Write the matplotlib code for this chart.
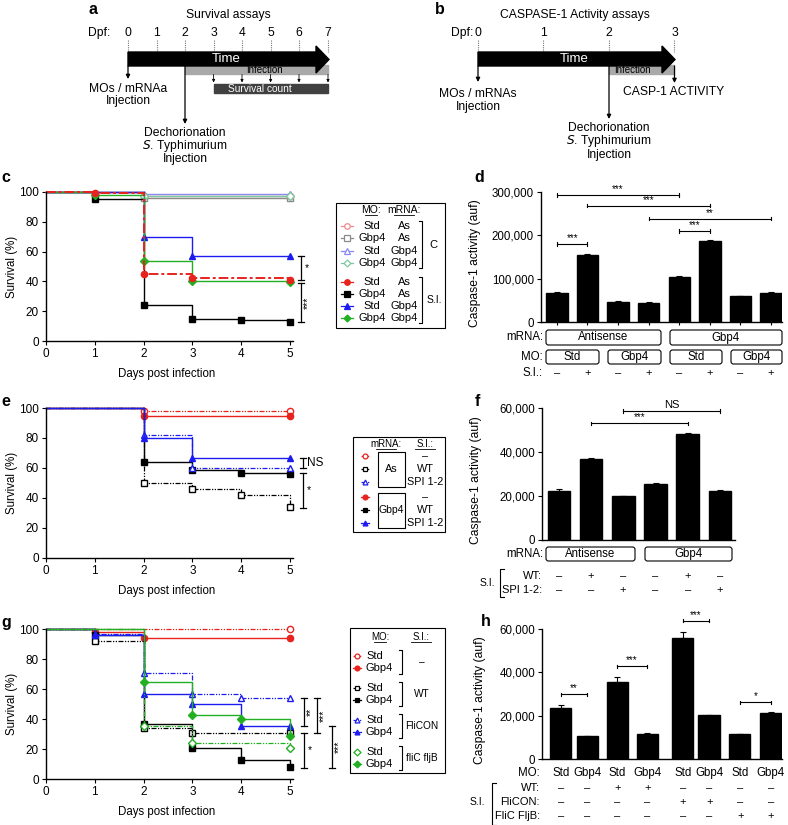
import numpy as np
import matplotlib.pyplot as plt
from matplotlib.patches import Rectangle, FancyBboxPatch, Polygon

plt.rcParams['font.family'] = ['Liberation Sans', 'DejaVu Sans']
plt.rcParams['font.size'] = 8
plt.rcParams['axes.linewidth'] = 1.0

# ---------------- data ----------------
days = [0, 1, 2, 3, 4, 5]

# panel c  (MO / mRNA, control vs S.I.)
c_std_as_ctrl = [100, 100, 97, 97, 97, 97]
c_gbp4_as_ctrl = [100, 100, 96, 96, 96, 96]
c_std_gbp4_ctrl = [100, 100, 98.5, 98.5, 98.5, 98.5]
c_gbp4_gbp4_ctrl = [100, 100, 97.5, 97.5, 97.5, 97.5]
c_std_as_si = [100, 99, 45, 42, 42, 41]
c_gbp4_as_si = [100, 95, 24, 15, 14, 12.5]
c_std_gbp4_si = [100, 100, 70, 57, 57, 57]
c_gbp4_gbp4_si = [100, 98, 54, 40, 40, 39.5]

# panel e  (mRNA / S.I.)
e_as_none = [100, 100, 98, 98, 98, 98]
e_gbp4_none = [100, 100, 95, 95, 95, 95]
e_as_wt = [100, 100, 50, 46, 42, 34]
e_gbp4_wt = [100, 100, 64, 59, 56.5, 56]
e_as_spi = [100, 100, 82, 60, 60, 60]
e_gbp4_spi = [100, 100, 80, 67, 67, 67]

# panel g  (MO / S.I.)
g_std_none = [100, 100, 100, 100, 100, 100]
g_gbp4_none = [100, 98, 94, 94, 94, 94]
g_std_wt = [100, 92, 34, 31, 31, 31]
g_gbp4_wt = [100, 96, 37, 21, 12.5, 8]
g_std_flicon = [100, 97, 71, 57, 54, 54]
g_gbp4_flicon = [100, 96, 57, 50, 35.5, 35.5]
g_std_flic = [100, 100, 35.5, 24, 24, 21]
g_gbp4_flic = [100, 100, 64.5, 42.5, 40, 29]

# caspase-1 activity bars
d_vals = [68000, 155000, 47000, 45000, 104000, 187000, 59000, 68000]
d_err = [1000, 3000, 1500, 1500, 3000, 1500, 1500, 1500]
d_mrna = ['Antisense', 'Gbp4']
d_mo = ['Std', 'Gbp4', 'Std', 'Gbp4']
d_si = ['–', '+', '–', '+', '–', '+', '–', '+']

f_vals = [22500, 37000, 19800, 25500, 48000, 22500]
f_err = [600, 300, 300, 400, 800, 200]
f_mrna = ['Antisense', 'Gbp4']
f_wt = ['–', '+', '–', '–', '+', '–']
f_spi = ['–', '–', '+', '–', '–', '+']

h_vals = [23600, 10700, 35500, 11600, 56000, 20500, 11400, 21300]
h_err = [1500, 0, 2500, 300, 2500, 0, 0, 500]
h_mo = ['Std', 'Gbp4'] * 4
h_wt = ['–', '–', '+', '+', '–', '–', '–', '–']
h_flicon = ['–', '–', '–', '–', '+', '+', '–', '–']
h_flic = ['–', '–', '–', '–', '–', '–', '+', '+']

W, H = 788, 825
fig = plt.figure(figsize=(W / 100, H / 100), dpi=100)


def add_ax(left, right, top, bottom):
    return fig.add_axes([left / W, 1 - bottom / H, (right - left) / W, (bottom - top) / H])


def style(ax, ls=8.5):
    ax.spines['top'].set_visible(False)
    ax.spines['right'].set_visible(False)
    ax.tick_params(direction='out', length=3, width=0.8, labelsize=ls, pad=2)


RED, BLUE, GREEN, BLACK = '#e8221c', '#1c1cf0', '#22b022', '#000000'
DDOT = (0, (4, 1.2, 1, 1.2, 1, 1.2))


def km(ax, vals, color, marker, filled, ls='-', lw=1.0, ms=4.5):
    v = np.array(vals, float)
    x = np.array(days)
    ax.step(x, v, where='post', color=color, ls=ls, lw=lw, clip_on=False)
    keep = np.r_[False, v[1:] != v[:-1]]
    keep[-1] = True
    ax.plot(x[keep], v[keep], ls='none', marker=marker, ms=ms, mec=color, mew=1.0,
            mfc=color if filled else 'white', clip_on=False)


def surv_axes(top, bottom):
    ax = add_ax(46, 293, top, bottom)
    style(ax)
    ax.set_xlim(0, 5.06)
    ax.set_ylim(0, 100)
    ax.set_xticks(range(6))
    ax.set_yticks(range(0, 101, 20))
    ax.set_xlabel('Days post infection', fontsize=8.3)
    ax.set_ylabel('Survival (%)', fontsize=8.3)
    ax.xaxis.set_label_coords(0.49, -0.18)
    ax.yaxis.set_label_coords(-0.115, 0.5)
    return ax


def vbracket(ax, x, y1, y2, txt, rot=90, dx=0.1, fs=7.5):
    ax.plot([x, x], [y1, y2], color='k', lw=0.9, clip_on=False)
    for y in (y1, y2):
        ax.plot([x - 0.06, x + 0.06], [y, y], color='k', lw=0.9, clip_on=False)
    ax.text(x + dx, (y1 + y2) / 2, txt, rotation=rot, ha='left' if rot == 0 else 'center',
            va='center', fontsize=fs, clip_on=False)


# ---------------- panel c ----------------
axc = surv_axes(192, 341)
km(axc, c_gbp4_as_ctrl, '#8a8a8a', 's', False)
km(axc, c_std_as_ctrl, '#f08a8a', 'o', False)
km(axc, c_std_gbp4_ctrl, '#8a8af5', '^', False)
km(axc, c_gbp4_gbp4_ctrl, '#7cc9a0', 'D', False, ms=4)
km(axc, c_gbp4_as_si, BLACK, 's', True)
km(axc, c_std_gbp4_si, BLUE, '^', True)
km(axc, c_gbp4_gbp4_si, GREEN, 'D', True, ms=4)
km(axc, c_std_as_si, RED, 'o', True, ls=(0, (5, 1.5, 1.5, 1.5)), lw=1.4)
vbracket(axc, 5.23, 57, 41, '*', rot=0, dx=0.08)
vbracket(axc, 5.23, 39, 12.5, '***', dx=0.14)

# ---------------- panel e ----------------
axe = surv_axes(408, 558)
km(axe, e_as_none, RED, 'o', False, ls=DDOT, lw=0.9)
km(axe, e_gbp4_none, RED, 'o', True)
km(axe, e_as_wt, BLACK, 's', False, ls=DDOT, lw=0.9)
km(axe, e_gbp4_wt, BLACK, 's', True)
km(axe, e_as_spi, BLUE, '^', False, ls=DDOT, lw=0.9)
km(axe, e_gbp4_spi, BLUE, '^', True)
vbracket(axe, 5.27, 67, 60, 'NS', rot=0, dx=0.08, fs=8.5)
vbracket(axe, 5.27, 56.5, 33.5, '*', rot=0, dx=0.08)

# ---------------- panel g ----------------
axg = surv_axes(629, 779)
km(axg, g_std_none, RED, 'o', False, ls=DDOT, lw=0.9)
km(axg, g_gbp4_none, RED, 'o', True)
km(axg, g_std_wt, BLACK, 's', False, ls=DDOT, lw=0.9)
km(axg, g_gbp4_wt, BLACK, 's', True)
km(axg, g_std_flicon, BLUE, '^', False, ls=DDOT, lw=0.9)
km(axg, g_gbp4_flicon, BLUE, '^', True)
km(axg, g_std_flic, GREEN, 'D', False, ls=DDOT, lw=0.9, ms=4)
km(axg, g_gbp4_flic, GREEN, 'D', True, ms=4)
vbracket(axg, 5.29, 54, 35.5, '**', dx=0.13)
vbracket(axg, 5.56, 54, 30.5, '***', dx=0.13)
vbracket(axg, 5.29, 30.5, 7.5, '*', rot=0, dx=0.08)
vbracket(axg, 5.86, 35.3, 7.5, '***', dx=0.13)


# ---------------- bar panels ----------------
def bar_axes(left, right, top, bottom, pos, vals, err, ymax, step, xl):
    ax = add_ax(left, right, top, bottom)
    style(ax, 8.3)
    ax.bar(pos, vals, width=0.7, color='k', edgecolor='k')
    ax.errorbar(pos, vals, yerr=[np.zeros(len(err)), err], fmt='none', ecolor='k',
                elinewidth=0.8, capsize=2.5, capthick=0.8)
    ax.set_ylim(0, ymax)
    ax.set_xlim(*xl)
    ticks = np.arange(0, ymax + 1, step)
    ax.set_yticks(ticks)
    ax.set_yticklabels([f'{int(t):,}' for t in ticks])
    ax.set_xticks(pos)
    ax.set_xticklabels([])
    ax.tick_params(axis='x', length=2.5)
    ax.set_ylabel('Caspase-1 activity (auf)', fontsize=8.7)
    return ax


def hbracket(ax, pos, i, j, y, txt, ymax):
    h = ymax * 0.012
    ax.plot([pos[i], pos[j]], [y, y], color='k', lw=0.8, clip_on=False)
    for k in (i, j):
        ax.plot([pos[k], pos[k]], [y - h, y + h], color='k', lw=0.8, clip_on=False)
    ax.text((pos[i] + pos[j]) / 2, y + h * 0.6, txt, ha='center', va='bottom',
            fontsize=7 if '*' in txt else 8, clip_on=False)


d_pos = list(range(8))
axd = bar_axes(541, 782, 192, 322, d_pos, d_vals, d_err, 300000, 100000, (-0.52, 7.36))
axd.yaxis.set_label_coords(-0.25, 0.45)
for i, j, y, t in [(0, 4, 293000, '***'), (1, 5, 268000, '***'), (3, 7, 238000, '**'),
                   (4, 5, 210000, '***'), (0, 1, 180000, '***')]:
    hbracket(axd, d_pos, i, j, y, t, 300000)

f_pos = list(range(6))
axf = bar_axes(542, 735, 408, 540, f_pos, f_vals, f_err, 60000, 20000, (-0.53, 5.47))
axf.yaxis.set_label_coords(-0.31, 0.45)
axf.tick_params(axis='x', length=0)
for i, j, y, t in [(2, 5, 58600, 'NS'), (1, 4, 53000, '***')]:
    hbracket(axf, f_pos, i, j, y, t, 60000)

h_pos = [0, 0.88, 1.88, 2.88, 4.06, 4.94, 5.97, 7.0]
axh = bar_axes(542, 782, 629, 759, h_pos, h_vals, h_err, 60000, 20000, (-0.62, 7.37))
axh.tick_params(axis='x', length=0)
axh.yaxis.set_label_coords(-0.235, 0.45)
for i, j, y, t in [(0, 1, 29900, '**'), (2, 3, 42800, '***'), (4, 5, 63900, '***'),
                   (6, 7, 26200, '*')]:
    hbracket(axh, h_pos, i, j, y, t, 60000)

# ---------------- overlay (schematics, legends, row labels) ----------------
ov = fig.add_axes([0, 0, 1, 1])
ov.set_xlim(0, W)
ov.set_ylim(H, 0)
ov.axis('off')


def txt(x, y, s, ha='center', fs=8, **kw):
    ov.text(x, y, s, ha=ha, va='center', fontsize=fs, **kw)


def arrow_down(x, y1, y2, lw=0.9, ms=6):
    ov.annotate('', xy=(x, y2), xytext=(x, y1),
                arrowprops=dict(arrowstyle='-|>', lw=lw, color='k', mutation_scale=ms,
                                shrinkA=0, shrinkB=0))


def big_arrow(x0, tip):
    xh = tip - 13
    pts = [(x0, 52), (xh, 52), (xh, 46), (tip, 59.5), (xh, 73), (xh, 66), (x0, 66)]
    ov.add_patch(Polygon(pts, closed=True, color='k', zorder=3))
    txt((x0 + tip) / 2 - 2, 59, 'Time', fs=9.5, color='white', zorder=4)


# panel labels
for x, y, s in [(93, 10, 'a'), (440, 10, 'b'), (6, 178, 'c'), (479, 178, 'd'),
                (6, 401, 'e'), (477, 402, 'f'), (6, 622, 'g'), (486, 622, 'h')]:
    ov.text(x, y, s, fontsize=11.5, fontweight='bold', ha='center', va='center')

# panel a
txt(228, 15, 'Survival assays', fs=8.7)
txt(99, 33, 'Dpf:', fs=8.7)
a_x = [128, 156.6, 185, 213.6, 242, 270.6, 299, 328]
for k, x in enumerate(a_x):
    txt(x, 33, str(k), fs=8.7)
    ov.plot([x, x], [40, 52], ls=(0, (1, 1)), color='#777777', lw=0.8)
ov.add_patch(Rectangle((185, 65), 328 - 185, 9, color='#a9a9a9', zorder=2))
big_arrow(128, 329)
txt(264, 70, 'Infection', fs=7, zorder=5)
for x in a_x[3:]:
    arrow_down(x, 74.5, 82.5, lw=0.6, ms=4)
ov.add_patch(Rectangle((213.6, 84), 328 - 213.6, 9, color='#404040'))
txt(260, 88.5, 'Survival count', fs=7.3, color='white')
arrow_down(128, 66, 79)
txt(128, 89, 'MOs / mRNAa', fs=8.7)
txt(128, 101, 'Injection', fs=8.7)
arrow_down(185, 66, 124)
txt(185, 133, 'Dechorionation', fs=8.7)
txt(185, 146, '$\\it{S}$. Typhimurium', fs=8.7)
txt(185, 159, 'Injection', fs=8.7)

# panel b
txt(575, 15, 'CASPASE-1 Activity assays', fs=8.7)
txt(462, 33, 'Dpf:', fs=8.7)
b_x = [478, 543.5, 609, 674.5]
for k, x in enumerate(b_x):
    txt(x, 33, str(k), fs=8.7)
    ov.plot([x, x], [40, 52], ls=(0, (1, 1)), color='#777777', lw=0.8)
ov.add_patch(Rectangle((609, 65), 674.5 - 609, 9, color='#a9a9a9', zorder=2))
big_arrow(478, 675)
txt(632, 70, 'Infection', fs=7, zorder=5)
arrow_down(674.5, 66, 83)
txt(674, 92, 'CASP-1 ACTIVITY', fs=8.7)
arrow_down(478, 66, 82)
txt(478, 94, 'MOs / mRNAs', fs=8.7)
txt(478, 107, 'Injection', fs=8.7)
arrow_down(609, 66, 119)
txt(609, 128, 'Dechorionation', fs=8.7)
txt(609, 141, '$\\it{S}$. Typhimurium', fs=8.7)
txt(609, 155, 'Injection', fs=8.7)


def rbox(x0, x1, y0, y1, s):
    ov.add_patch(FancyBboxPatch((x0, y0), x1 - x0, y1 - y0,
                                boxstyle='round,pad=0,rounding_size=2.5',
                                fc='white', ec='k', lw=0.8))
    txt((x0 + x1) / 2, (y0 + y1) / 2, s, fs=8.3)


# panel d rows
txt(543, 337, 'mRNA:', ha='right', fs=8.3)
rbox(546, 661, 330, 345, d_mrna[0])
rbox(670, 782, 330, 345, d_mrna[1])
txt(543, 357, 'MO:', ha='right', fs=8.3)
for (x0, x1), s in zip([(546, 599), (608, 661), (670, 722), (731, 782)], d_mo):
    rbox(x0, x1, 350, 364, s)
txt(543, 373, 'S.I.:', ha='right', fs=8.3)
d_px = [557, 587.6, 618, 648.7, 679, 710, 740.5, 771]
for x, s in zip(d_px, d_si):
    txt(x, 373, s)

# panel f rows
txt(543, 554, 'mRNA:', ha='right', fs=8.3)
rbox(546, 635, 547, 561, f_mrna[0])
rbox(645, 732, 547, 561, f_mrna[1])
f_px = [559, 591, 623, 655.5, 687.7, 720]
txt(542, 576, 'WT:', ha='right')
txt(542, 590, 'SPI 1-2:', ha='right')
for x, s1, s2 in zip(f_px, f_wt, f_spi):
    txt(x, 576, s1)
    txt(x, 590, s2)
txt(487, 583, 'S.I.', fs=7.5)
ov.plot([504, 500, 500, 504], [569, 569, 597, 597], color='k', lw=0.8)

# panel h rows
h_px = [560.7, 587.3, 617.3, 647.3, 682.7, 709.3, 740.3, 771]
txt(540, 773, 'MO:', ha='right', fs=8.3)
txt(540, 788, 'WT:', ha='right')
txt(540, 802, 'FliCON:', ha='right')
txt(540, 816, 'FliC FljB:', ha='right')
for x, m, a, b, c in zip(h_px, h_mo, h_wt, h_flicon, h_flic):
    txt(x, 773, m, fs=8.3)
    txt(x, 788, a)
    txt(x, 802, b)
    txt(x, 816, c)
txt(477, 802, 'S.I.', fs=7.5)
ov.plot([496, 492, 492, 496], [783, 783, 825, 825], color='k', lw=0.8)


# legends
def leg_mark(x, y, color, marker, filled, ls='-', ms=4, half=6):
    ov.plot([x - half, x + half], [y, y], color=color, ls=ls, lw=0.9)
    ov.plot(x, y, marker=marker, ms=ms, mec=color, mfc=color if filled else 'white', mew=0.9)


def uline(x, y, s, fs=7.5):
    txt(x, y, s, fs=fs)
    w = len(s) * fs * 0.55
    ov.plot([x - w / 2, x + w / 2], [y + 5, y + 5], color='k', lw=0.6)


def rbrack(x, y0, y1):
    ov.plot([x - 3, x, x, x - 3], [y0, y0, y1, y1], color='k', lw=0.8)


# legend c
ov.add_patch(Rectangle((336, 203), 109, 125, fc='white', ec='k', lw=0.8))
uline(371, 210, 'MO:')
uline(404, 210, 'mRNA:')
c_rows = [226, 238, 251, 263, 282, 294, 306, 318]
c_leg = [('#f08a8a', 'o', False, 'Std', 'As'), ('#8a8a8a', 's', False, 'Gbp4', 'As'),
         ('#8a8af5', '^', False, 'Std', 'Gbp4'), ('#7cc9a0', 'D', False, 'Gbp4', 'Gbp4'),
         (RED, 'o', True, 'Std', 'As'), (BLACK, 's', True, 'Gbp4', 'As'),
         (BLUE, '^', True, 'Std', 'Gbp4'), (GREEN, 'D', True, 'Gbp4', 'Gbp4')]
for y, (col, mk, fl, mo, mr) in zip(c_rows, c_leg):
    leg_mark(347, y, col, mk, fl, ms=3.5 if mk == 'D' else 4)
    txt(372, y, mo, fs=8)
    txt(404, y, mr, fs=8)
rbrack(422, 221, 268)
rbrack(422, 277, 323)
txt(433, 245, 'C', fs=8)
txt(434, 300, 'S.I.', fs=7.5)

# legend e
ov.add_patch(Rectangle((353, 437), 92, 95, fc='white', ec='k', lw=0.8))
uline(386, 444, 'mRNA:', fs=7)
uline(425, 444, 'S.I.:', fs=7)
e_rows = [456, 469, 482, 497, 510, 523]
e_leg = [(RED, 'o', False), (BLACK, 's', False), (BLUE, '^', False),
         (RED, 'o', True), (BLACK, 's', True), (BLUE, '^', True)]
e_si = ['–', 'WT', 'SPI 1-2'] * 2
for y, (col, mk, fl), s in zip(e_rows, e_leg, e_si):
    leg_mark(365, y, col, mk, fl, ls=DDOT if not fl else '-', half=4, ms=3.5)
    txt(425, y, s, fs=7.8)
ov.add_patch(Rectangle((378, 452), 27, 35, fc='none', ec='k', lw=0.8))
ov.add_patch(Rectangle((378, 493), 27, 35, fc='none', ec='k', lw=0.8))
txt(391.5, 469, 'As', fs=7.8)
txt(391.5, 510, 'Gbp4', fs=7.5)

# legend g
ov.add_patch(Rectangle((350, 628), 95, 145, fc='white', ec='k', lw=0.8))
uline(380, 637, 'MO:', fs=7)
uline(421, 637, 'S.I.:', fs=7)
g_rows = [656, 668, 688, 700, 720, 732, 752, 764]
g_cols = [(RED, 'o'), (BLACK, 's'), (BLUE, '^'), (GREEN, 'D')]
g_si = ['–', 'WT', 'FliCON', 'fliC fljB']
for k, (col, mk) in enumerate(g_cols):
    y1, y2 = g_rows[2 * k], g_rows[2 * k + 1]
    leg_mark(357, y1, col, mk, False, ls=DDOT, half=4, ms=3.5)
    leg_mark(357, y2, col, mk, True, half=4, ms=3.5)
    txt(366, y1, 'Std', ha='left', fs=8)
    txt(366, y2, 'Gbp4', ha='left', fs=8)
    rbrack(402, y1 - 6, y2 + 6)
    txt(422, (y1 + y2) / 2, g_si[k], fs=7.3)

fig.savefig('out.png', dpi=100)
